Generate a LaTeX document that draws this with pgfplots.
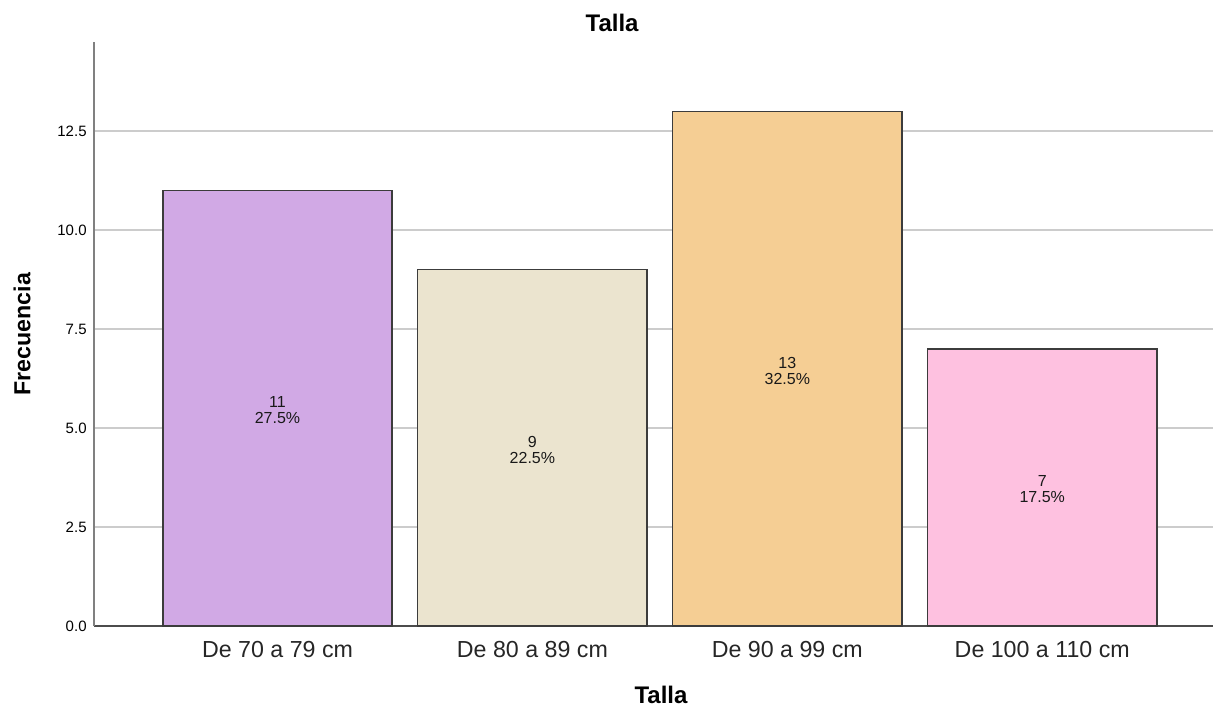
\documentclass[border=0pt]{standalone}
\usepackage{fontspec}
\setmainfont{Liberation Sans}
\usepackage{pgfplots}
\pgfplotsset{compat=1.18}
\definecolor{c1}{RGB}{209,169,229}
\definecolor{c2}{RGB}{235,228,207}
\definecolor{c3}{RGB}{245,206,148}
\definecolor{c4}{RGB}{254,193,224}
\definecolor{edge}{RGB}{60,60,60}
\begin{document}
\begin{tikzpicture}
\path[use as bounding box] (0,0) rectangle (607.5pt,353.5pt);
\begin{axis}[
  at={(47pt,40.5pt)}, anchor=south west,
  scale only axis, width=559.5pt, height=292pt,
  xmin=-0.72, xmax=3.67, ymin=0, ymax=14.75,
  axis lines*=left,
  x axis line style={draw=black!70, line width=0.7pt, -},
  y axis line style={draw=black!50, line width=0.7pt, -},
  ytick={0,2.5,5,7.5,10,12.5},
  xtick={0,1,2,3},
  xticklabels={De 70 a 79 cm, De 80 a 89 cm, De 90 a 99 cm, De 100 a 110 cm},
  major tick length=0pt,
  ymajorgrids, grid style={draw=black!20, line width=0.75pt},
  /pgf/number format/assume math mode=true,
  yticklabel style={/pgf/number format/fixed, /pgf/number format/fixed zerofill, /pgf/number format/precision=1, font=\fontsize{7.5}{9}\selectfont, inner sep=0pt, xshift=-3.5pt},
  xticklabel style={font=\fontsize{11.6}{13}\selectfont, inner sep=0pt, yshift=-7.5pt, text=black!85},
  title={Talla},
  every axis title/.style={at={(rel axis cs:0.463,1)}, anchor=center, yshift=9.5pt, font=\bfseries\fontsize{12}{14}\selectfont},
  xlabel={Talla},
  every axis x label/.style={at={(rel axis cs:0.5,0)}, anchor=center, yshift=-34.5pt, xshift=3.75pt, font=\bfseries\fontsize{12}{14}\selectfont},
  ylabel={Frecuencia},
  every axis y label/.style={at={(rel axis cs:0,0.5)}, xshift=-36pt, rotate=90, anchor=center, font=\bfseries\fontsize{11.6}{14}\selectfont},
  clip=false,
]
\addplot[ybar, bar width=0.9, bar shift=0pt, fill=c1, draw=edge, line width=0.75pt] coordinates {(0,11)};
\addplot[ybar, bar width=0.9, bar shift=0pt, fill=c2, draw=edge, line width=0.75pt] coordinates {(1,9)};
\addplot[ybar, bar width=0.9, bar shift=0pt, fill=c3, draw=edge, line width=0.75pt] coordinates {(2,13)};
\addplot[ybar, bar width=0.9, bar shift=0pt, fill=c4, draw=edge, line width=0.75pt] coordinates {(3,7)};
\addplot[draw=none, mark=none, point meta=explicit symbolic,
  nodes near coords,
  every node near coord/.style={anchor=center, align=center, inner sep=0pt, yshift=-1pt, font=\fontsize{8}{8}\selectfont, text=black!90}]
  coordinates {(0,5.5) [{11\\27.5\%}] (1,4.5) [{9\\22.5\%}] (2,6.5) [{13\\32.5\%}] (3,3.5) [{7\\17.5\%}]};
\end{axis}
\end{tikzpicture}
\end{document}
